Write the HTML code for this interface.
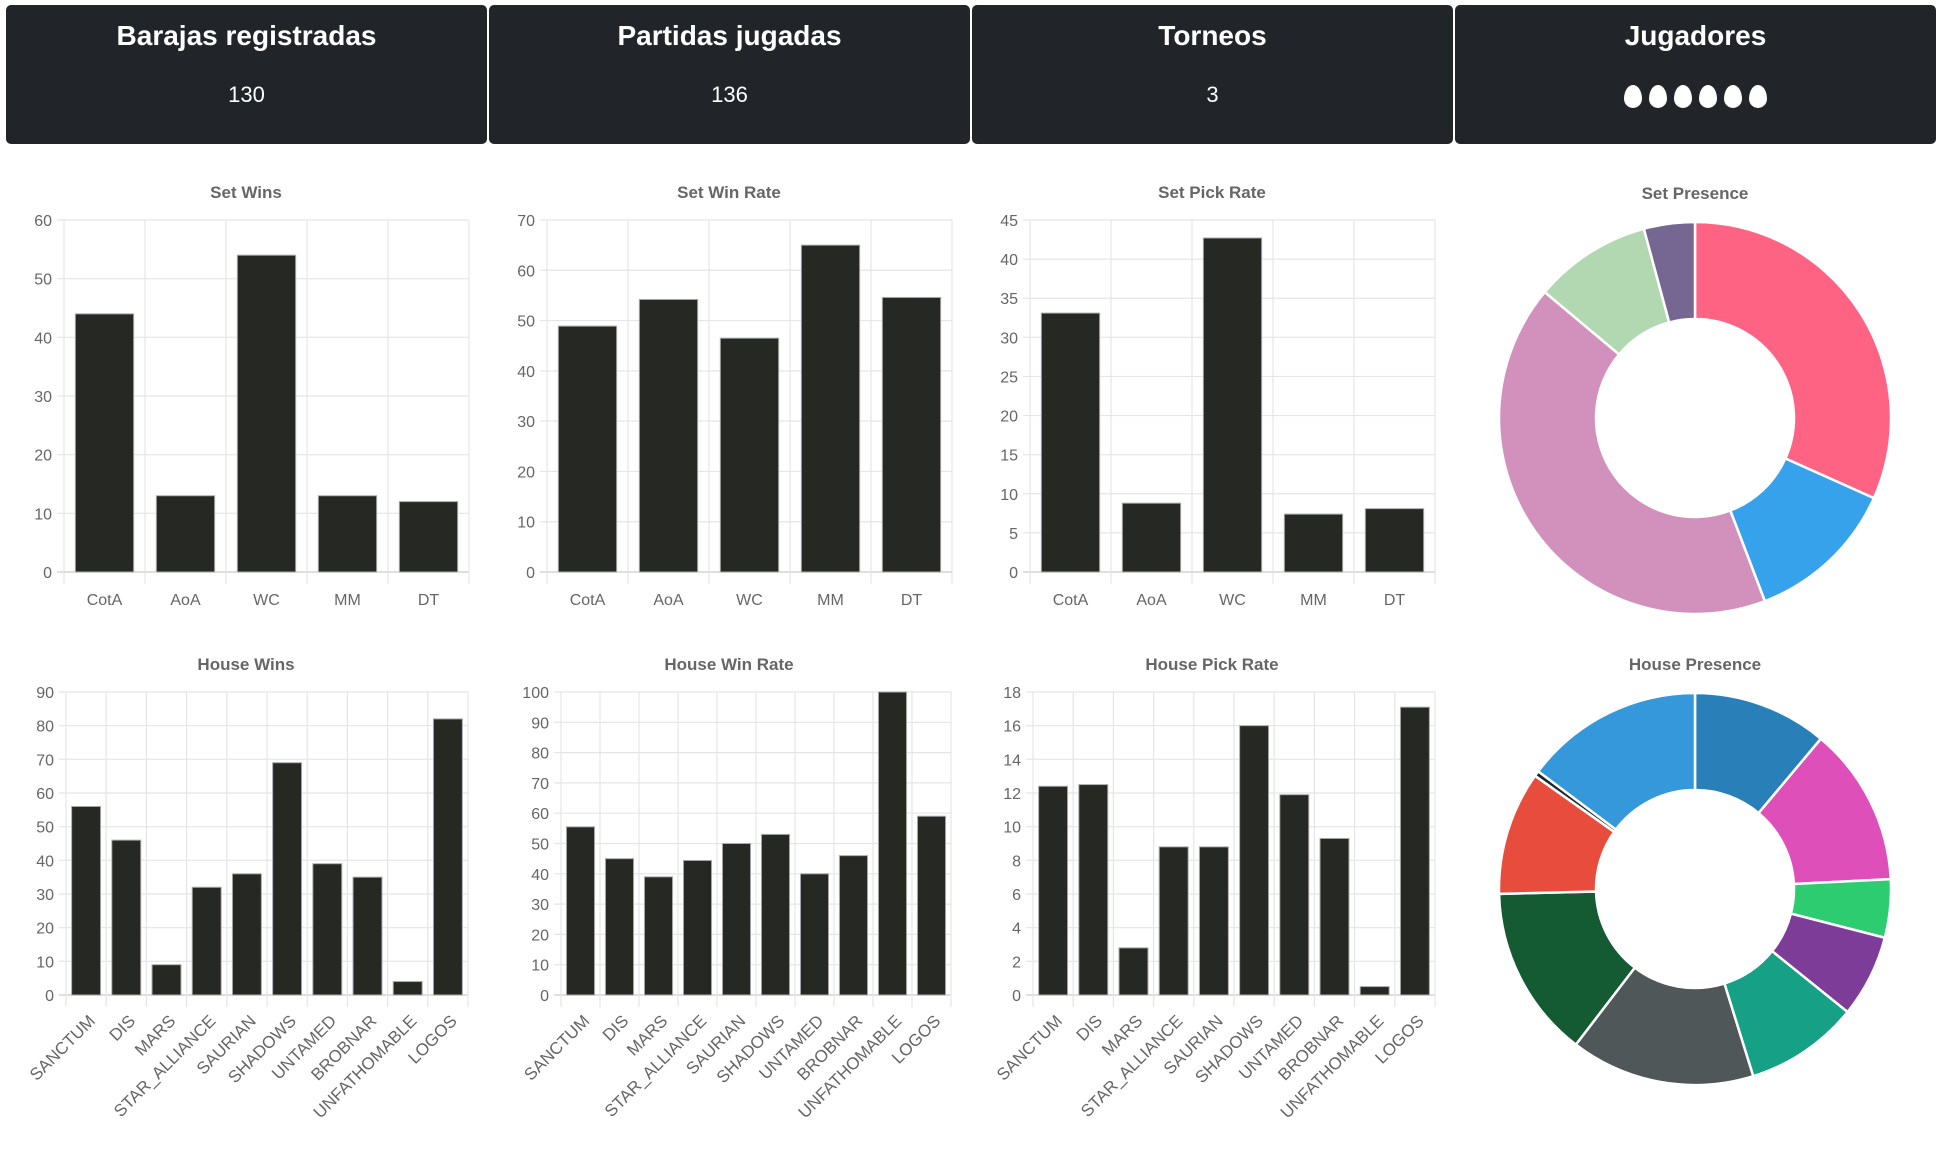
<!DOCTYPE html>
<html><head><meta charset="utf-8"><style>
html,body{margin:0;padding:0;background:#fff;width:1941px;height:1159px;overflow:hidden;font-family:"Liberation Sans",sans-serif}
.card{position:absolute;top:5px;height:139px;width:481px;background:#212529;border-radius:5px;color:#fff;text-align:center}
.card h2{margin:0;position:absolute;top:15px;width:100%;font-size:28px;font-weight:bold}
.card p{margin:0;position:absolute;top:77px;width:100%;font-size:22px}
.egg{display:inline-block;width:18px;height:23px;background:#fff;border-radius:50% 50% 50% 50%/60% 60% 40% 40%;margin:0 3.5px}
svg{position:absolute;left:0;top:0}
</style></head><body>
<div class="card" style="left:6px"><h2>Barajas registradas</h2><p>130</p></div>
<div class="card" style="left:489px"><h2>Partidas jugadas</h2><p>136</p></div>
<div class="card" style="left:972px"><h2>Torneos</h2><p>3</p></div>
<div class="card" style="left:1455px"><h2>Jugadores</h2><p style="top:80px"><span class="egg"></span><span class="egg"></span><span class="egg"></span><span class="egg"></span><span class="egg"></span><span class="egg"></span></p></div>
<svg id="chart" width="1941" height="1159"></svg>
<script>
const setCats=["CotA","AoA","WC","MM","DT"];
const setWins=[44,13,54,13,12];
const setWinRate=[48.9,54.2,46.5,65,54.6];
const setPickRate=[33.1,8.8,42.7,7.4,8.1];
const houseCats=["SANCTUM","DIS","MARS","STAR_ALLIANCE","SAURIAN","SHADOWS","UNTAMED","BROBNAR","UNFATHOMABLE","LOGOS"];
const houseWins=[56,46,9,32,36,69,39,35,4,82];
const houseWinRate=[55.5,45,39,44.4,50,53,40,46,100,59];
const housePickRate=[12.4,12.5,2.8,8.8,8.8,16,11.9,9.3,0.5,17.1];
const setPresence=[31.7,12.5,41.9,9.7,4.2];
const setColors=["#ff6384","#36a2eb","#d291bc","#b2d8b2","#756791"];
const housePresence=[11.1,13.1,4.8,6.8,9.4,15.2,14.2,10.2,0.45,14.75];
const houseColors=["#2980b9","#de4fb9","#2ecc71","#7d3c98","#16a085","#4f5758","#145a32","#e74c3c","#1b2631","#3498db"];
const NS="http://www.w3.org/2000/svg";
const svg=document.getElementById('chart');
function mk(t,a,p){const e=document.createElementNS(NS,t);for(const k in a)e.setAttribute(k,a[k]);(p||svg).appendChild(e);return e;}
function bar(cfg){
  const {x0,x1,y0,y1,cats,vals,max,step,title,name,rot,tx}=cfg;
  const g=mk('g',{});
  
  
  const t=mk('text',{x:tx,y:y0-22,'text-anchor':'middle','font-size':17,'font-weight':'bold',fill:'#666'},g);
  t.textContent=title;
  
  
  const ys=v=>y1-(v/max)*(y1-y0);
  for(let v=0;v<=max+1e-9;v+=step){
    const y=ys(v);
    mk('line',{x1:x0-7,x2:x1,y1:y,y2:y,stroke:v==0?'#ccc':'#e5e5e5','stroke-width':1.2},g);
    const l=mk('text',{x:x0-12,y:y+6,'text-anchor':'end','font-size':16,fill:'#666'},g);
    l.textContent=Math.round(v);
    
    
  }
  const n=cats.length,w=(x1-x0)/n;
  for(let i=0;i<=n;i++){const x=x0+i*w;mk('line',{x1:x,x2:x,y1:y0,y2:y1+12,stroke:'#e5e5e5','stroke-width':1.2},g);}
  cats.forEach((c,i)=>{
    const cx=x0+(i+0.5)*w,bw=w*0.72,y=ys(vals[i]);
    const r=mk('rect',{x:cx-bw/2,y:y,width:bw,height:y1-y,fill:'#262823',stroke:'#aaa','stroke-width':1},g);
    
    
    let l;
    if(rot){l=mk('text',{x:cx+10,y:y1+27,'text-anchor':'end','font-size':17,fill:'#666',transform:`rotate(-45 ${cx+10} ${y1+27})`},g);}
    else{l=mk('text',{x:cx,y:y1+33,'text-anchor':'middle','font-size':16,fill:'#666'},g);}
    l.textContent=c;
    
    
  });
}
function donut(cfg){
  const {cx,cy,R,r,vals,colors,title,name,ty}=cfg;
  const g=mk('g',{});
  
  
  const t=mk('text',{x:cx,y:ty,'text-anchor':'middle','font-size':17,'font-weight':'bold',fill:'#666'},g);
  t.textContent=title;
  
  
  const tot=vals.reduce((a,b)=>a+b,0);let a=0;
  const pt=(ang,rad)=>[cx+rad*Math.sin(ang),cy-rad*Math.cos(ang)];
  vals.forEach((v,i)=>{
    const a2=a+v/tot*2*Math.PI,lg=(a2-a)>Math.PI?1:0;
    const [x1,y1]=pt(a,R),[x2,y2]=pt(a2,R),[x3,y3]=pt(a2,r),[x4,y4]=pt(a,r);
    const p=mk('path',{d:`M${x1} ${y1}A${R} ${R} 0 ${lg} 1 ${x2} ${y2}L${x3} ${y3}A${r} ${r} 0 ${lg} 0 ${x4} ${y4}Z`,fill:colors[i],stroke:'#fff','stroke-width':2.5},g);
    
    
    a=a2;
  });
}
bar({x0:64,x1:469,y0:220,y1:572,cats:setCats,vals:setWins,max:60,step:10,title:'Set Wins',name:'set-wins-chart',tx:246});
bar({x0:547,x1:952,y0:220,y1:572,cats:setCats,vals:setWinRate,max:70,step:10,title:'Set Win Rate',name:'set-win-rate-chart',tx:729});
bar({x0:1030,x1:1435,y0:220,y1:572,cats:setCats,vals:setPickRate,max:45,step:5,title:'Set Pick Rate',name:'set-pick-rate-chart',tx:1212});
bar({x0:66,x1:468,y0:692,y1:995,cats:houseCats,vals:houseWins,max:90,step:10,title:'House Wins',name:'house-wins-chart',rot:true,tx:246});
bar({x0:561,x1:951,y0:692,y1:995,cats:houseCats,vals:houseWinRate,max:100,step:10,title:'House Win Rate',name:'house-win-rate-chart',rot:true,tx:729});
bar({x0:1033,x1:1435,y0:692,y1:995,cats:houseCats,vals:housePickRate,max:18,step:2,title:'House Pick Rate',name:'house-pick-rate-chart',rot:true,tx:1212});
donut({cx:1695,cy:418,R:196,r:99,vals:setPresence,colors:setColors,title:'Set Presence',name:'set-presence-chart',ty:199});
donut({cx:1695,cy:889,R:196,r:99,vals:housePresence,colors:houseColors,title:'House Presence',name:'house-presence-chart',ty:670});
</script>
</body></html>
